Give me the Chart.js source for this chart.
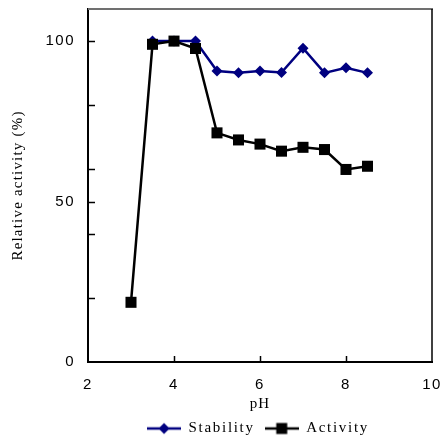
<!DOCTYPE html>
<html>
<head>
<meta charset="utf-8">
<script src="https://cdn.jsdelivr.net/npm/chart.js@4.4.1/dist/chart.umd.min.js"></script>
<style>
html,body{margin:0;padding:0;background:#fff;}
#wrap{width:441px;height:437px;}
</style>
</head>
<body>
<div id="wrap"><canvas id="c" width="441" height="437"></canvas></div>
<script>
// ---- data ----
const phStability = [3.5, 4, 4.5, 5, 5.5, 6, 6.5, 7, 7.5, 8, 8.5];
const stability   = [100, 100, 100, 90.7, 90.1, 90.7, 90.2, 97.8, 90.1, 91.7, 90.1];
const phActivity  = [3, 3.5, 4, 4.5, 5, 5.5, 6, 6.5, 7, 7.5, 8, 8.5];
const activity    = [18.6, 99, 100, 97.7, 71.4, 69.2, 67.9, 65.7, 66.9, 66.2, 60, 61];
const xTickLabels = [2, 4, 6, 8, 10];
const xTickMarks  = [4, 6, 8];
const yTickLabels = [0, 50, 100];
const yTickMarks  = [20, 40, 50, 60, 80, 100];
const seriesNames = ['Stability', 'Activity'];

const NAVY = '#000080';
const SERIF = "'Liberation Serif', 'DejaVu Serif', serif";
const SANS = "'Liberation Sans', Arial, sans-serif";

function legendSymbol(color, kind) {
  const c = document.createElement('canvas');
  c.width = 34; c.height = 14;
  const g = c.getContext('2d');
  g.strokeStyle = color; g.lineWidth = 2.5;
  g.beginPath(); g.moveTo(0, 7); g.lineTo(34, 7); g.stroke();
  g.fillStyle = color;
  if (kind === 'diamond') {
    g.beginPath(); g.moveTo(17, 1.5); g.lineTo(22.5, 7); g.lineTo(17, 12.5); g.lineTo(11.5, 7); g.closePath(); g.fill();
  } else {
    g.fillRect(11.5, 1.5, 11, 11);
  }
  return c;
}
const symStab = legendSymbol(NAVY, 'diamond');
const symAct = legendSymbol('#000', 'square');

function wrapSpacing(obj, method, spacing) {
  if (!obj || obj['__w_' + method]) return;
  const orig = obj[method];
  obj[method] = function (...args) {
    const ctx = this.ctx;
    ctx.save();
    ctx.letterSpacing = spacing;
    const r = orig.apply(this, args);
    ctx.restore();
    return r;
  };
  obj['__w_' + method] = true;
}

const spacingPlugin = {
  id: 'spacing',
  beforeUpdate(chart) {
    wrapSpacing(chart.legend, 'fit', '1.7px');
    wrapSpacing(chart.legend, 'draw', '1.7px');
  },
  afterLayout(chart) {
    const lg = chart.legend;
    if (lg) { lg.left += 42; lg.right += 42; lg.top -= 2; }
  },
  beforeDraw(chart) {
    const xs = chart.scales.x, ys = chart.scales.y;
    wrapSpacing(xs, 'drawLabels', '1.5px');
    wrapSpacing(ys, 'drawLabels', '1.5px');
    wrapSpacing(xs, 'drawTitle', '1px');
    wrapSpacing(ys, 'drawTitle', '1.2px');
  }
};

const framePlugin = {
  id: 'frame',
  afterDraw(chart) {
    const ctx = chart.ctx, a = chart.chartArea;
    const xs = chart.scales.x, ys = chart.scales.y;
    ctx.save();
    ctx.strokeStyle = '#707070'; ctx.lineWidth = 2;
    ctx.beginPath(); ctx.moveTo(a.left, a.top); ctx.lineTo(a.right + 1, a.top); ctx.stroke();
    ctx.strokeStyle = '#000'; ctx.lineWidth = 1.5;
    ctx.beginPath(); ctx.moveTo(a.right, a.top); ctx.lineTo(a.right, a.bottom); ctx.stroke();
    ctx.lineWidth = 1.5;
    xTickMarks.forEach(v => {
      const px = Math.round(xs.getPixelForValue(v)) + 0.5;
      ctx.beginPath(); ctx.moveTo(px, a.bottom); ctx.lineTo(px, a.bottom - 6); ctx.stroke();
    });
    yTickMarks.forEach(v => {
      const py = Math.round(ys.getPixelForValue(v)) + 0.5;
      ctx.beginPath(); ctx.moveTo(a.left, py); ctx.lineTo(a.left + 7, py); ctx.stroke();
    });
    ctx.restore();
  }
};

new Chart(document.getElementById('c'), {
  type: 'line',
  data: {
    datasets: [
      {
        label: seriesNames[0],
        data: phStability.map((x, i) => ({ x, y: stability[i] })),
        borderColor: NAVY, backgroundColor: NAVY,
        borderWidth: 2.5, pointStyle: 'rectRot', pointRadius: 5.5,
        pointBorderWidth: 0, tension: 0, order: 2
      },
      {
        label: seriesNames[1],
        data: phActivity.map((x, i) => ({ x, y: activity[i] })),
        borderColor: '#000', backgroundColor: '#000',
        borderWidth: 2.5, pointStyle: 'rect', pointRadius: 7.8,
        pointBorderWidth: 0, tension: 0, order: 1
      }
    ]
  },
  options: {
    responsive: false,
    animation: false,
    events: [],
    layout: { padding: { top: 9, right: 9, left: 0, bottom: 0 } },
    plugins: {
      tooltip: { enabled: false },
      legend: {
        position: 'bottom',
        maxHeight: 24,
        labels: {
          usePointStyle: true,
          pointStyleWidth: 34,
          padding: 10,
          color: '#000',
          font: { family: SERIF, size: 15 },
          sort: (a, b) => a.datasetIndex - b.datasetIndex,
          generateLabels(chart) {
            const items = Chart.defaults.plugins.legend.labels.generateLabels(chart);
            items.forEach(it => { it.pointStyle = it.datasetIndex === 0 ? symStab : symAct; });
            return items;
          }
        }
      }
    },
    scales: {
      x: {
        type: 'linear', min: 2, max: 10,
        afterBuildTicks(s) { s.ticks = xTickLabels.map(v => ({ value: v })); },
        grid: { display: false, drawTicks: false },
        border: { display: true, color: '#000', width: 2 },
        ticks: { color: '#000', padding: 14, font: { family: SANS, size: 15 }, maxRotation: 0 },
        title: { display: true, text: 'pH', color: '#000', font: { family: SERIF, size: 15 }, padding: { top: 1, bottom: 0 } },
        afterFit(s) { s.height = 51; s.paddingLeft = 0; s.paddingRight = 0; }
      },
      y: {
        type: 'linear', min: 0, max: 110,
        afterBuildTicks(s) { s.ticks = yTickLabels.map(v => ({ value: v })); },
        grid: { display: false, drawTicks: false },
        border: { display: true, color: '#000', width: 2 },
        ticks: { color: '#000', padding: 13, font: { family: SANS, size: 15 } },
        title: { display: true, text: 'Relative activity (%)', color: '#000', font: { family: SERIF, size: 15 }, padding: { top: 9, bottom: 0 } },
        afterFit(s) { s.width = 88; s.paddingTop = 0; s.paddingBottom = 0; }
      }
    }
  },
  plugins: [spacingPlugin, framePlugin]
});
</script>
</body>
</html>
